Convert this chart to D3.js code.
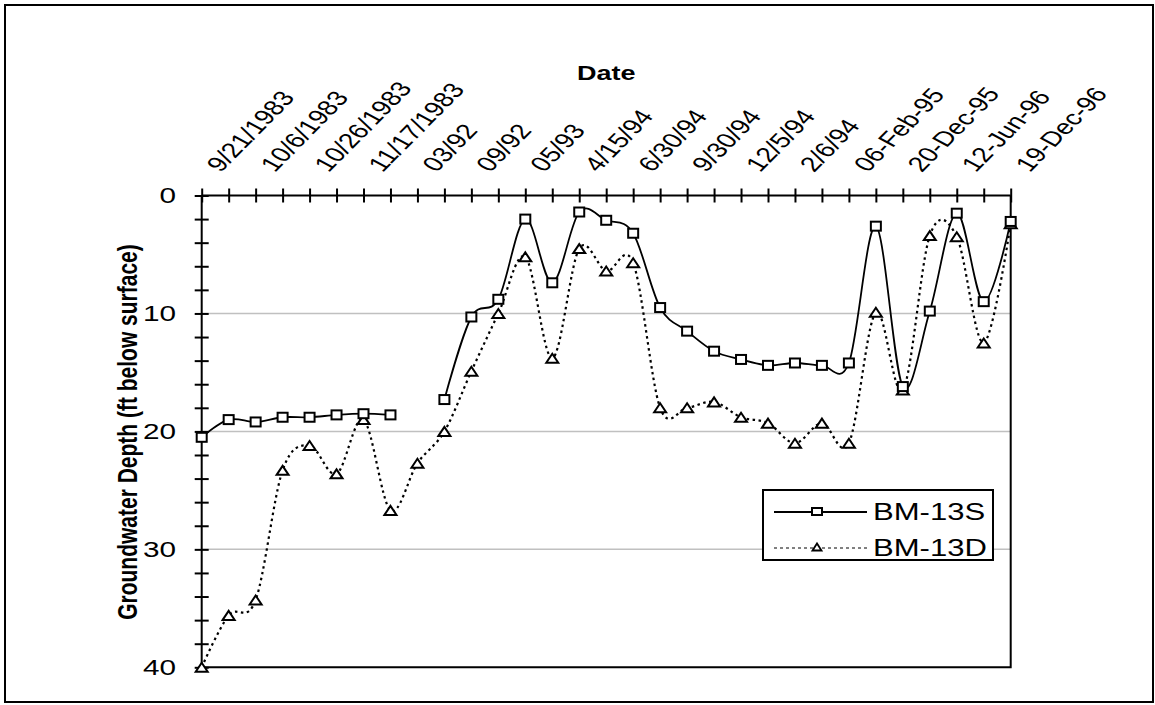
<!DOCTYPE html>
<html>
<head>
<meta charset="utf-8">
<script src="https://cdn.jsdelivr.net/npm/d3@7"></script>
<style>
  html, body { margin: 0; padding: 0; background: #fff; }
  svg { display: block; font-family: Arial, "Liberation Sans", sans-serif; }
</style>
</head>
<body>
<svg id="chart" width="1155" height="705"></svg>
<script>
// Sampling events (31 readings); every second one carries a date label
const dateLabels = ["9/21/1983", "10/6/1983", "10/26/1983", "11/17/1983", "03/92", "09/92",
  "05/93", "4/15/94", "6/30/94", "9/30/94", "12/5/94", "2/6/94", "06-Feb-95", "20-Dec-95",
  "12-Jun-96", "19-Dec-96"];
const sampleIndex = d3.range(31);

// Groundwater depth, ft below surface
const bm13S = [20.5, 19.0, 19.2, 18.8, 18.8, 18.6, 18.5, 18.6, null, 17.3, 10.3, 8.8, 2.0, 7.4,
  1.4, 2.1, 3.2, 9.5, 11.5, 13.2, 13.9, 14.4, 14.2, 14.4, 14.2, 2.6, 16.2, 9.8, 1.5, 9.0, 2.2];
const bm13D = [40.0, 35.6, 34.3, 23.3, 21.2, 23.6, 19.0, 26.7, 22.7, 20.0, 14.9, 10.0, 5.2, 13.8,
  4.5, 6.4, 5.7, 18.0, 18.0, 17.5, 18.8, 19.3, 21.0, 19.3, 21.0, 9.9, 16.5, 3.4, 3.5, 12.5, 2.4];

const yMajorTicks = [0, 10, 20, 30, 40];
const yMinorTicks = d3.range(0, 41, 2);
const yGridValues = [10, 20, 30];
const seriesNames = ["BM-13S", "BM-13D"];

const svg = d3.select("#chart");
const SX = 1.35; // horizontal stretch of the lettering

const plot = { left: 201.7, right: 1010.7, top: 195.5, bottom: 667.3 };

const x = d3.scalePoint().domain(sampleIndex).range([plot.left, plot.right]);
const y = d3.scaleLinear().domain([0, 40]).range([plot.top, plot.bottom]);

// outer frame
svg.append("rect").attr("x", 5).attr("y", 5).attr("width", 1148).attr("height", 697)
  .attr("fill", "#fff").attr("stroke", "#000").attr("stroke-width", 2);

// grid
svg.append("g").selectAll("line").data(yGridValues).join("line")
  .attr("x1", plot.left).attr("x2", plot.right)
  .attr("y1", d => y(d)).attr("y2", d => y(d))
  .attr("stroke", "#c0c0c0").attr("stroke-width", 1.5);

// plot border (right and bottom)
svg.append("path")
  .attr("d", `M${plot.right},${plot.top}V${plot.bottom}H${plot.left}`)
  .attr("fill", "none").attr("stroke", "#000").attr("stroke-width", 2);

// top category axis
const xAxis = svg.append("g").attr("transform", `translate(0,${plot.top})`)
  .call(d3.axisTop(x).tickFormat(""));
xAxis.select(".domain").attr("d", `M${plot.left},0H${plot.right}`).attr("stroke-width", 2);
xAxis.selectAll(".tick line").attr("y1", 7).attr("y2", -7).attr("stroke-width", 2);

// left value axis (reversed: depth increases downward)
const yAxis = svg.append("g").attr("transform", `translate(${plot.left},0)`)
  .call(d3.axisLeft(y).tickValues(yMinorTicks).tickFormat(""));
yAxis.select(".domain").attr("d", `M0,${plot.top}V${plot.bottom}`).attr("stroke-width", 2);
yAxis.selectAll(".tick line").attr("x1", 7).attr("x2", -7).attr("stroke-width", 2);

// y tick labels
svg.append("g").selectAll("text").data(yMajorTicks).join("text")
  .attr("transform", d => `translate(176,${y(d)}) scale(${SX},1)`)
  .attr("dy", "0.36em").attr("text-anchor", "end")
  .attr("font-size", 22).text(d => d);

// date labels, slanted
svg.append("g").selectAll("text").data(dateLabels).join("text")
  .attr("transform", (d, i) => `translate(${x(i * 2) + 19},173) scale(${SX},1) rotate(-53.5)`)
  .attr("font-size", 21).text(d => d);

// axis titles
svg.append("text")
  .attr("transform", `translate(${(plot.left + plot.right) / 2},80) scale(${SX},1)`)
  .attr("text-anchor", "middle").attr("font-weight", "bold").attr("font-size", 20)
  .text("Date");
svg.append("text")
  .attr("transform", `translate(137,432) scale(${SX},1) rotate(-90)`)
  .attr("text-anchor", "middle").attr("font-weight", "bold").attr("font-size", 21)
  .text("Groundwater Depth (ft below surface)");

// series lines
const line = d3.line()
  .defined(d => d.v != null)
  .x(d => x(d.i)).y(d => y(d.v))
  .curve(d3.curveCardinal.tension(0));

const sData = bm13S.map((v, i) => ({ i, v }));
const dData = bm13D.map((v, i) => ({ i, v }));

svg.append("path").datum(dData).attr("d", line)
  .attr("fill", "none").attr("stroke", "#000").attr("stroke-width", 2.2)
  .attr("stroke-dasharray", "2.5,3.5");
svg.append("path").datum(sData).attr("d", line)
  .attr("fill", "none").attr("stroke", "#000").attr("stroke-width", 1.8);

// markers
const tri = (cx, cy, w, h) => `M${cx - w / 2},${cy + h / 2}L${cx},${cy - h / 2}L${cx + w / 2},${cy + h / 2}Z`;

svg.append("g").selectAll("path").data(dData).join("path")
  .attr("d", d => tri(x(d.i), y(d.v), 12, 9))
  .attr("fill", "#fff").attr("stroke", "#000").attr("stroke-width", 2);

svg.append("g").selectAll("rect").data(sData.filter(d => d.v != null)).join("rect")
  .attr("x", d => x(d.i) - 5).attr("y", d => y(d.v) - 4.5)
  .attr("width", 10).attr("height", 9)
  .attr("fill", "#fff").attr("stroke", "#000").attr("stroke-width", 2);

// legend
const lg = svg.append("g");
lg.append("rect").attr("x", 763).attr("y", 490).attr("width", 230).attr("height", 70)
  .attr("fill", "#fff").attr("stroke", "#000").attr("stroke-width", 2);
const rows = [512, 548];
lg.append("line").attr("x1", 774).attr("x2", 867).attr("y1", rows[0]).attr("y2", rows[0])
  .attr("stroke", "#000").attr("stroke-width", 1.8);
lg.append("rect").attr("x", 812).attr("y", rows[0] - 4).attr("width", 10).attr("height", 7)
  .attr("fill", "#fff").attr("stroke", "#000").attr("stroke-width", 2);
lg.append("line").attr("x1", 774).attr("x2", 867).attr("y1", rows[1]).attr("y2", rows[1])
  .attr("stroke", "#000").attr("stroke-width", 1).attr("stroke-dasharray", "3,3");
lg.append("path").attr("d", tri(817, rows[1] - 1, 9, 7))
  .attr("fill", "#fff").attr("stroke", "#000").attr("stroke-width", 1.8);
lg.selectAll("text.lbl").data(seriesNames).join("text").attr("class", "lbl")
  .attr("transform", (d, i) => `translate(873,${rows[i]}) scale(${SX},1)`)
  .attr("dy", "0.36em").attr("font-size", 23).text(d => d);
</script>
</body>
</html>
